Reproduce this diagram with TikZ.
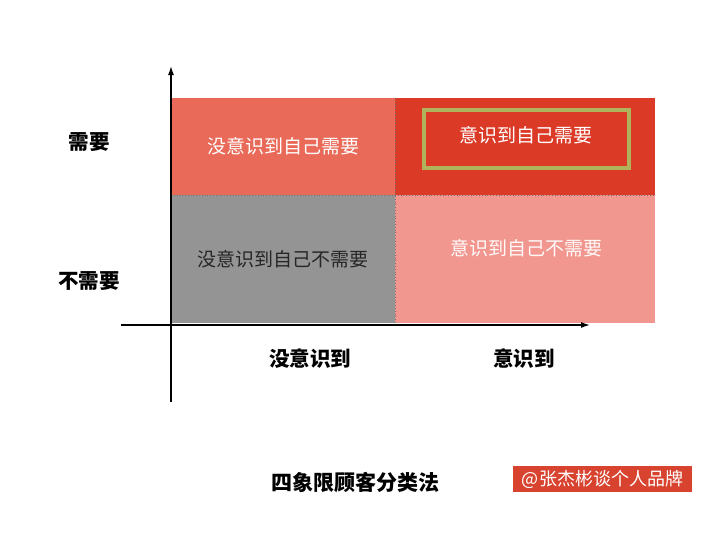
\documentclass[tikz,border=0pt]{standalone}
\usepackage{fontspec}
\setmainfont{Noto Sans CJK SC}
\usepackage{tikz}
\usetikzlibrary{arrows.meta,positioning}
\definecolor{quadA}{HTML}{E96A58}
\definecolor{quadB}{HTML}{DB3A27}
\definecolor{quadC}{HTML}{949494}
\definecolor{quadD}{HTML}{F2978F}
\definecolor{markbox}{HTML}{B0B25C}
\definecolor{tagred}{HTML}{D8432F}
\tikzset{
  quad/.style={anchor=north west, inner sep=0pt, minimum width=224pt, font=\fontsize{19}{19}\selectfont},
  axis/.style={-{Latex[length=9pt,width=6pt]}, line width=1.4pt},
  lbl/.style={font=\fontsize{20.5}{20.5}\selectfont\bfseries, inner sep=0pt},
  sep/.style={dotted, line width=0.8pt, black!55}
}
\begin{document}
\begin{tikzpicture}[x=1pt,y=-1pt]
    \useasboundingbox[fill=white] (0,0) rectangle (720,541);
    % Quadrants
    \node[quad, fill=quadA, minimum height=97pt, text=white] (tl) at (171,98) {没意识到自己需要};
    \node[quad, fill=quadB, minimum height=97pt, minimum width=260pt] (tr) at (395,98) {};
    \node[quad, fill=quadC, minimum height=128pt, text=black!85] (bl) at (171,195) {没意识到自己不需要};
    \node[quad, fill=quadD, minimum height=128pt, minimum width=260pt] (br) at (395,195) {};
    \node[font=\fontsize{19}{19}\selectfont, text=white] (trt) at (526,135) {意识到自己需要};
    \node[font=\fontsize{19}{19}\selectfont, text=white!95!quadD] (brt) at (526,248) {意识到自己不需要};
    % Highlight
    \draw[markbox, line width=3.5pt] (424,110) rectangle (629,168);
    % Borders
    \draw[sep] (tl.south west) -- (tr.south east);
    \draw[sep] (tr.north west) -- (br.south west);
    % Axes
    \coordinate (o) at (171,325);
    \coordinate (ybot) at (171,402);
    \coordinate (ytop) at (171,66);
    \coordinate (xleft) at (121,325);
    \coordinate (xright) at (590,325);
    \draw[axis] (ybot) -- (ytop);
    \draw[axis] (xleft) -- (xright);
    % Labels
    \node[lbl] (need) at (89,142) {需要};
    \node[lbl] (noneed) at (89,281) {不需要};
    \node[lbl] (unaware) at (310,359) {没意识到};
    \node[lbl] (aware) at (524,359) {意识到};
    \node[lbl, font=\fontsize{21}{21}\selectfont\bfseries] (title) at (355,482) {四象限顾客分类法};
    \node[fill=tagred, text=white, font=\fontsize{18}{18}\selectfont, minimum width=179pt, minimum height=26pt, inner sep=0pt] (tag) at (602.5,479) {@张杰彬谈个人品牌};
\end{tikzpicture}
\end{document}
